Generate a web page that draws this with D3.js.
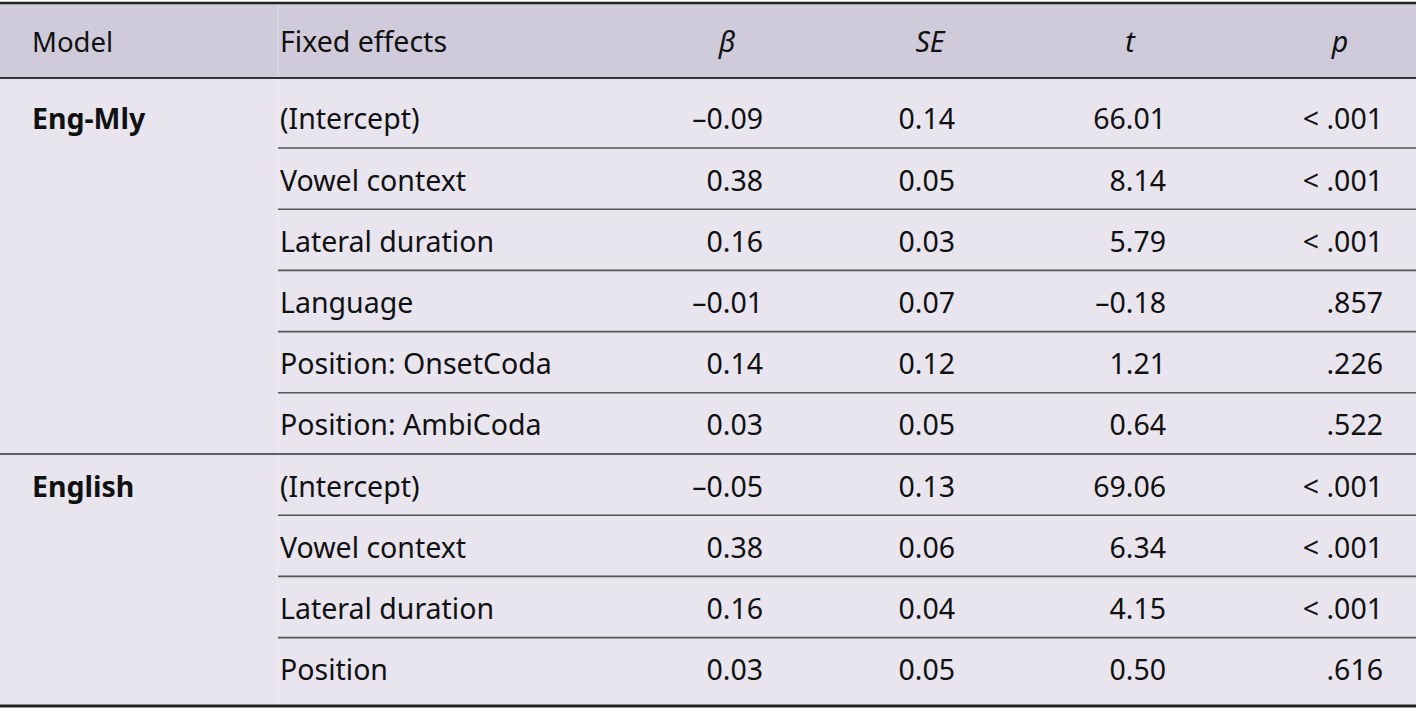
<!DOCTYPE html>
<html>
<head>
<meta charset="utf-8">
<script src="https://cdn.jsdelivr.net/npm/d3@7"></script>
<style>
  html, body { margin: 0; padding: 0; background: #ffffff; }
  svg { display: block; }
  text { font-family: "Noto Sans", "Open Sans", sans-serif; fill: #111; }
</style>
</head>
<body>
<svg id="chart" width="1416" height="711"></svg>
<script>
// ---- data ----
const headers = ["Model", "Fixed effects", "β", "SE", "t", "p"];
const models = ["Eng-Mly", "", "", "", "", "", "English", "", "", ""];
const effects = ["(Intercept)", "Vowel context", "Lateral duration", "Language",
  "Position: OnsetCoda", "Position: AmbiCoda",
  "(Intercept)", "Vowel context", "Lateral duration", "Position"];
const betaVals = ["–0.09", "0.38", "0.16", "–0.01", "0.14", "0.03", "–0.05", "0.38", "0.16", "0.03"];
const seVals = ["0.14", "0.05", "0.03", "0.07", "0.12", "0.05", "0.13", "0.06", "0.04", "0.05"];
const tVals = ["66.01", "8.14", "5.79", "–0.18", "1.21", "0.64", "69.06", "6.34", "4.15", "0.50"];
const pVals = ["< .001", "< .001", "< .001", ".857", ".226", ".522", "< .001", "< .001", "< .001", ".616"];
const groupStarts = [0, 6];

// ---- layout ----
const W = 1416, H = 711;
const svg = d3.select("#chart");
const fontSize = 28.5;
const headFontSize = 27.5;

const headerTop = 3, headerBottom = 78, bodyBottom = 706;
const rowIdx = d3.range(effects.length);
const y = d3.scaleBand().domain(rowIdx).range([86.8, 86.8 + 61.2 * effects.length]).paddingInner(0);

const colText = { model: 32, effect: 280 };
const numRight = [763, 955, 1166, 1383];
const headCenter = [727, 930, 1130, 1340];

// backgrounds
svg.append("rect").attr("x", 0).attr("y", headerTop).attr("width", W).attr("height", headerBottom - headerTop).attr("fill", "#cfcbdb");
svg.append("rect").attr("x", 0).attr("y", headerBottom).attr("width", W).attr("height", bodyBottom - headerBottom).attr("fill", "#e8e5ef");

// faint column separators
svg.append("line").attr("x1", 278).attr("x2", 278).attr("y1", headerTop).attr("y2", bodyBottom)
  .attr("stroke", "#ffffff").attr("stroke-opacity", 0.18).attr("stroke-width", 2);

// header text
const hg = svg.append("g");
hg.append("text").attr("x", colText.model).attr("y", 52).attr("font-size", headFontSize).text(headers[0]);
hg.append("text").attr("x", colText.effect).attr("y", 52).attr("font-size", fontSize).text(headers[1]);
headers.slice(2).forEach((h, i) => {
  hg.append("text").attr("x", headCenter[i]).attr("y", 52).attr("font-size", fontSize)
    .attr("text-anchor", "middle").attr("font-style", "italic").text(h);
});

// row separator lines
rowIdx.slice(0, -1).forEach(i => {
  const ly = y(i) + y.bandwidth();
  const full = groupStarts.includes(i + 1);
  svg.append("line").attr("x1", full ? 0 : 278).attr("x2", W).attr("y1", ly).attr("y2", ly)
    .attr("stroke", full ? "#333" : "#555").attr("stroke-width", 1.6);
});

// rules
svg.append("line").attr("x1", 0).attr("x2", W).attr("y1", headerTop).attr("y2", headerTop).attr("stroke", "#222").attr("stroke-width", 2.5);
svg.append("line").attr("x1", 0).attr("x2", W).attr("y1", headerBottom).attr("y2", headerBottom).attr("stroke", "#333").attr("stroke-width", 1.8);
svg.append("line").attr("x1", 0).attr("x2", W).attr("y1", bodyBottom).attr("y2", bodyBottom).attr("stroke", "#222").attr("stroke-width", 3);

// body cells
const rows = svg.append("g").selectAll("g").data(rowIdx).join("g")
  .attr("transform", i => `translate(0,${y(i) + y.bandwidth() / 2 + 12})`);

rows.append("text").attr("x", colText.model).attr("font-size", fontSize).attr("font-weight", "bold")
  .text(i => models[i]);
rows.append("text").attr("x", colText.effect).attr("font-size", fontSize).text(i => effects[i]);
[betaVals, seVals, tVals, pVals].forEach((arr, c) => {
  rows.append("text").attr("x", numRight[c]).attr("font-size", fontSize).attr("text-anchor", "end")
    .text(i => arr[i]);
});
</script>
</body>
</html>
